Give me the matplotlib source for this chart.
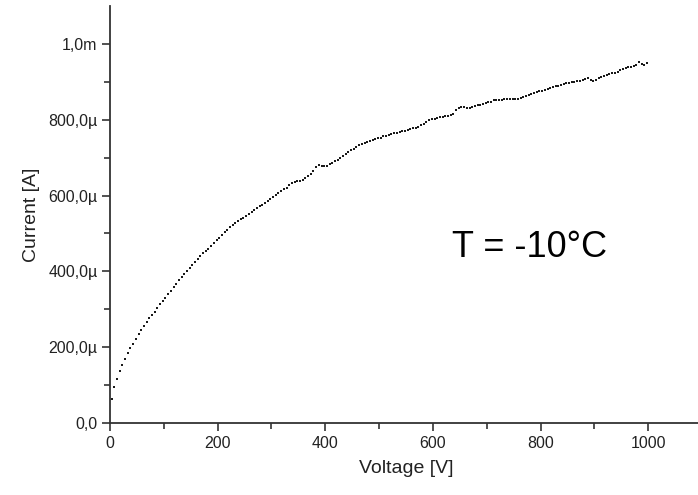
import numpy as np
import matplotlib.pyplot as plt

plt.rcParams['font.family'] = ['Liberation Sans', 'DejaVu Sans']

# measured current (uA), voltage sweep in 5 V steps starting at 3 V
current_uA = [
    63, 94, 117, 136, 153, 169, 184, 197, 209, 222,
    234, 246, 257, 266, 276, 285, 294, 304, 313, 322,
    331, 340, 349, 358, 367, 376, 384, 392, 401, 409,
    418, 425, 433, 441, 448, 453, 459, 466, 474, 482,
    489, 496, 503, 510, 516, 522, 527, 532, 537, 542,
    547, 552, 557, 562, 567, 572, 576, 581, 586, 591,
    596, 601, 606, 611, 616, 621, 627, 633, 637, 638,
    639, 641, 646, 651, 656, 664, 674, 680, 679, 678,
    679, 683, 687, 691, 695, 700, 705, 710, 715, 720,
    724, 729, 733, 736, 738, 740, 744, 747, 749, 751,
    753, 756, 758, 760, 762, 764, 766, 768, 769, 771,
    773, 775, 777, 779, 782, 786, 790, 794, 798, 801,
    803, 805, 807, 808, 809, 811, 812, 816, 826, 831,
    834, 833, 830, 831, 834, 835, 838, 840, 842, 844,
    846, 848, 851, 852, 853, 853, 854, 854, 854, 854,
    854, 855, 858, 861, 863, 866, 868, 871, 873, 875,
    877, 879, 881, 884, 886, 888, 890, 892, 895, 897,
    898, 899, 900, 901, 903, 906, 908, 909, 905, 903,
    906, 909, 913, 916, 918, 920, 922, 924, 926, 930,
    935, 937, 938, 940, 941, 945, 951, 948, 945, 950,
]
voltage = np.arange(3, 3 + 5 * len(current_uA), 5)
current = np.array(current_uA) * 1e-6

xticks = [0, 200, 400, 600, 800, 1000]
yticks = [0, 200e-6, 400e-6, 600e-6, 800e-6, 1e-3]
ytick_labels = ['0,0', '200,0\u00b5', '400,0\u00b5', '600,0\u00b5', '800,0\u00b5', '1,0m']

fig = plt.figure(figsize=(6.98, 4.95), dpi=100)
ax = fig.add_axes([110 / 698, 72 / 495, 592 / 698, 417 / 495])

ax.plot(voltage, current, 's', color='#1a1a1a', markersize=2.1, markeredgewidth=0)

ax.set_xlim(0, 1100)
ax.set_ylim(0, 1.1e-3)
ax.set_xticks(xticks)
ax.set_xticks([100, 300, 500, 700, 900], minor=True)
ax.set_yticks(yticks)
ax.set_yticklabels(ytick_labels)
ax.set_yticks([100e-6, 300e-6, 500e-6, 700e-6, 900e-6], minor=True)

for side in ['top', 'right']:
    ax.spines[side].set_visible(False)
for side in ['left', 'bottom']:
    ax.spines[side].set_linewidth(1.3)
    ax.spines[side].set_color('#333333')

ax.tick_params(which='major', direction='out', length=6, width=1.2,
               colors='#333333', labelsize=11.5, labelcolor='#222222', pad=3)
ax.tick_params(which='minor', direction='out', length=4, width=1.2, colors='#333333')

ax.set_xlabel('Voltage [V]', fontsize=14, color='#222222', labelpad=7)
ax.set_ylabel('Current [A]', fontsize=14, color='#222222', labelpad=6)

# annotation placed in figure pixels (left edge, baseline)
fig.text(452 / 698, (495 - 257) / 495, 'T = -10\u00b0C', fontsize=26,
         color='black', va='baseline', ha='left')

fig.savefig('out.png', dpi=100)
